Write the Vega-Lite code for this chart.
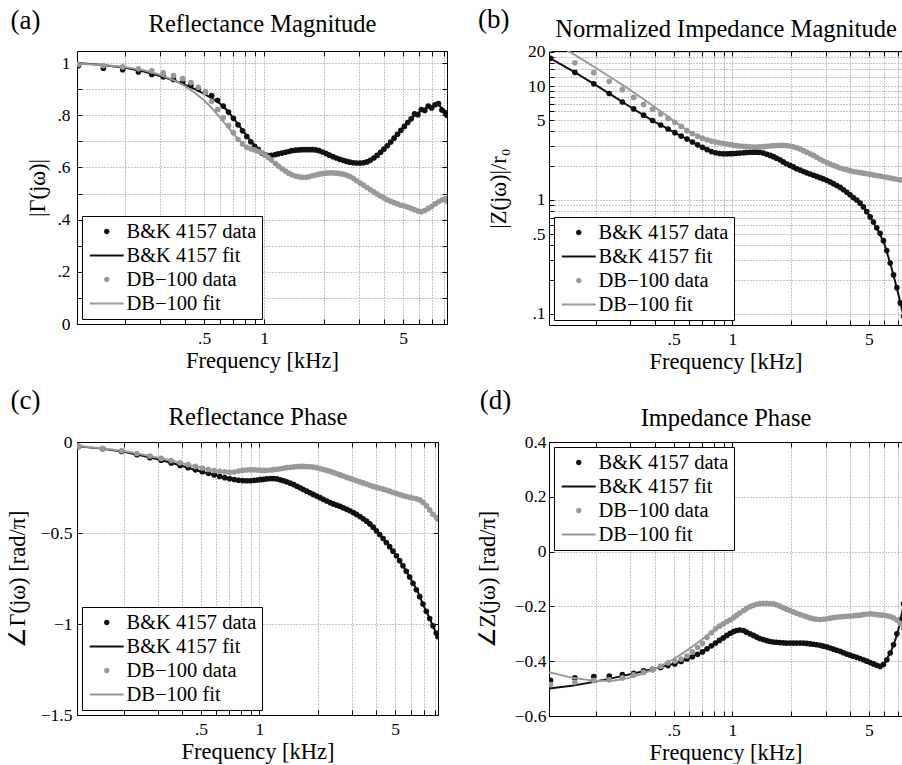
{
"$schema": "https://vega.github.io/schema/vega-lite/v6.json",
"padding": {"left": 6, "top": 5, "right": 0, "bottom": 0},
"background": "white",
"datasets": {
"bk": [
{"f":0.117,"a":0.99,"b":17.5,"c":-0.025,"d":-0.47},
{"f":0.156,"a":0.98,"b":13.2,"c":-0.037,"d":-0.461},
{"f":0.195,"a":0.974,"b":10.45,"c":-0.052,"d":-0.456},
{"f":0.234,"a":0.966,"b":8.6,"c":-0.07,"d":-0.454},
{"f":0.273,"a":0.956,"b":7.25,"c":-0.086,"d":-0.449},
{"f":0.312,"a":0.947,"b":6.3,"c":-0.1,"d":-0.444},
{"f":0.351,"a":0.937,"b":5.55,"c":-0.115,"d":-0.435},
{"f":0.39,"a":0.927,"b":4.98,"c":-0.129,"d":-0.43},
{"f":0.429,"a":0.914,"b":4.55,"c":-0.141,"d":-0.423},
{"f":0.468,"a":0.901,"b":4.2,"c":-0.153,"d":-0.416},
{"f":0.507,"a":0.888,"b":3.9,"c":-0.163,"d":-0.41},
{"f":0.546,"a":0.875,"b":3.64,"c":-0.172,"d":-0.401},
{"f":0.585,"a":0.857,"b":3.43,"c":-0.181,"d":-0.392},
{"f":0.624,"a":0.835,"b":3.23,"c":-0.189,"d":-0.384},
{"f":0.663,"a":0.812,"b":3.05,"c":-0.196,"d":-0.375},
{"f":0.702,"a":0.788,"b":2.9,"c":-0.202,"d":-0.366},
{"f":0.741,"a":0.763,"b":2.77,"c":-0.206,"d":-0.355},
{"f":0.78,"a":0.74,"b":2.66,"c":-0.21,"d":-0.344},
{"f":0.819,"a":0.718,"b":2.6,"c":-0.212,"d":-0.334},
{"f":0.858,"a":0.698,"b":2.56,"c":-0.213,"d":-0.324},
{"f":0.897,"a":0.681,"b":2.54,"c":-0.213,"d":-0.315},
{"f":0.936,"a":0.668,"b":2.54,"c":-0.211,"d":-0.306},
{"f":0.975,"a":0.655,"b":2.55,"c":-0.209,"d":-0.298},
{"f":1.014,"a":0.648,"b":2.56,"c":-0.207,"d":-0.292},
{"f":1.05,"a":0.645,"b":2.57,"c":-0.205,"d":-0.288},
{"f":1.09,"a":0.646,"b":2.58,"c":-0.203,"d":-0.286},
{"f":1.14,"a":0.649,"b":2.6,"c":-0.201,"d":-0.288},
{"f":1.18,"a":0.652,"b":2.61,"c":-0.201,"d":-0.294},
{"f":1.23,"a":0.655,"b":2.62,"c":-0.203,"d":-0.3},
{"f":1.28,"a":0.658,"b":2.63,"c":-0.208,"d":-0.306},
{"f":1.33,"a":0.661,"b":2.63,"c":-0.213,"d":-0.312},
{"f":1.38,"a":0.664,"b":2.62,"c":-0.219,"d":-0.317},
{"f":1.44,"a":0.666,"b":2.58,"c":-0.226,"d":-0.321},
{"f":1.5,"a":0.667,"b":2.52,"c":-0.234,"d":-0.325},
{"f":1.56,"a":0.668,"b":2.46,"c":-0.243,"d":-0.328},
{"f":1.62,"a":0.668,"b":2.4,"c":-0.252,"d":-0.33},
{"f":1.68,"a":0.668,"b":2.33,"c":-0.261,"d":-0.331},
{"f":1.75,"a":0.668,"b":2.25,"c":-0.27,"d":-0.332},
{"f":1.82,"a":0.667,"b":2.16,"c":-0.279,"d":-0.333},
{"f":1.89,"a":0.664,"b":2.08,"c":-0.288,"d":-0.334},
{"f":1.97,"a":0.659,"b":2.01,"c":-0.297,"d":-0.334},
{"f":2.05,"a":0.653,"b":1.95,"c":-0.306,"d":-0.334},
{"f":2.13,"a":0.647,"b":1.88,"c":-0.315,"d":-0.334},
{"f":2.22,"a":0.641,"b":1.83,"c":-0.324,"d":-0.334},
{"f":2.31,"a":0.636,"b":1.78,"c":-0.333,"d":-0.334},
{"f":2.4,"a":0.631,"b":1.73,"c":-0.34,"d":-0.335},
{"f":2.5,"a":0.627,"b":1.69,"c":-0.347,"d":-0.337},
{"f":2.6,"a":0.623,"b":1.65,"c":-0.354,"d":-0.338},
{"f":2.7,"a":0.62,"b":1.61,"c":-0.362,"d":-0.34},
{"f":2.81,"a":0.618,"b":1.57,"c":-0.37,"d":-0.342},
{"f":2.92,"a":0.617,"b":1.53,"c":-0.378,"d":-0.345},
{"f":3.04,"a":0.617,"b":1.49,"c":-0.388,"d":-0.348},
{"f":3.16,"a":0.618,"b":1.44,"c":-0.398,"d":-0.352},
{"f":3.29,"a":0.621,"b":1.39,"c":-0.41,"d":-0.356},
{"f":3.42,"a":0.627,"b":1.34,"c":-0.422,"d":-0.36},
{"f":3.56,"a":0.636,"b":1.29,"c":-0.435,"d":-0.364},
{"f":3.7,"a":0.646,"b":1.23,"c":-0.45,"d":-0.369},
{"f":3.85,"a":0.658,"b":1.17,"c":-0.468,"d":-0.374},
{"f":4.0,"a":0.67,"b":1.11,"c":-0.488,"d":-0.378},
{"f":4.16,"a":0.683,"b":1.05,"c":-0.508,"d":-0.382},
{"f":4.33,"a":0.697,"b":1.0,"c":-0.53,"d":-0.386},
{"f":4.5,"a":0.712,"b":0.94,"c":-0.552,"d":-0.39},
{"f":4.68,"a":0.727,"b":0.87,"c":-0.575,"d":-0.395},
{"f":4.87,"a":0.742,"b":0.79,"c":-0.6,"d":-0.4},
{"f":5.07,"a":0.757,"b":0.71,"c":-0.625,"d":-0.405},
{"f":5.27,"a":0.772,"b":0.64,"c":-0.652,"d":-0.41},
{"f":5.48,"a":0.786,"b":0.57,"c":-0.68,"d":-0.415},
{"f":5.7,"a":0.805,"b":0.51,"c":-0.71,"d":-0.419},
{"f":5.93,"a":0.802,"b":0.44,"c":-0.742,"d":-0.412},
{"f":6.17,"a":0.822,"b":0.36,"c":-0.776,"d":-0.395},
{"f":6.42,"a":0.818,"b":0.28,"c":-0.812,"d":-0.37},
{"f":6.68,"a":0.835,"b":0.22,"c":-0.85,"d":-0.34},
{"f":6.95,"a":0.828,"b":0.17,"c":-0.89,"d":-0.3},
{"f":7.23,"a":0.84,"b":0.125,"c":-0.93,"d":-0.25},
{"f":7.52,"a":0.845,"b":0.095,"c":-0.97,"d":-0.19},
{"f":7.82,"a":0.82,"b":0.075,"c":-1.01,"d":-0.14},
{"f":8.13,"a":0.81,"b":0.06,"c":-1.05,"d":-0.1},
{"f":8.3,"a":0.8,"b":0.05,"c":-1.07,"d":-0.08}
],
"db": [
{"f":0.117,"a":0.995,"b":21,"c":-0.023,"d":-0.485},
{"f":0.156,"a":0.99,"b":16,"c":-0.035,"d":-0.477},
{"f":0.195,"a":0.985,"b":13.1,"c":-0.048,"d":-0.47},
{"f":0.234,"a":0.978,"b":11.0,"c":-0.063,"d":-0.468},
{"f":0.273,"a":0.97,"b":9.3,"c":-0.077,"d":-0.461},
{"f":0.312,"a":0.962,"b":7.95,"c":-0.09,"d":-0.45},
{"f":0.351,"a":0.952,"b":6.9,"c":-0.102,"d":-0.441},
{"f":0.39,"a":0.94,"b":6.25,"c":-0.114,"d":-0.431},
{"f":0.429,"a":0.925,"b":5.68,"c":-0.124,"d":-0.418},
{"f":0.468,"a":0.907,"b":5.2,"c":-0.134,"d":-0.406},
{"f":0.507,"a":0.888,"b":4.8,"c":-0.143,"d":-0.399},
{"f":0.546,"a":0.853,"b":4.42,"c":-0.151,"d":-0.392},
{"f":0.585,"a":0.822,"b":4.06,"c":-0.157,"d":-0.381},
{"f":0.624,"a":0.79,"b":3.83,"c":-0.161,"d":-0.366},
{"f":0.663,"a":0.76,"b":3.63,"c":-0.164,"d":-0.35},
{"f":0.702,"a":0.733,"b":3.49,"c":-0.166,"d":-0.335},
{"f":0.741,"a":0.707,"b":3.37,"c":-0.165,"d":-0.313},
{"f":0.78,"a":0.69,"b":3.29,"c":-0.16,"d":-0.296},
{"f":0.819,"a":0.677,"b":3.23,"c":-0.156,"d":-0.282},
{"f":0.858,"a":0.671,"b":3.18,"c":-0.154,"d":-0.272},
{"f":0.897,"a":0.667,"b":3.14,"c":-0.153,"d":-0.264},
{"f":0.936,"a":0.662,"b":3.1,"c":-0.153,"d":-0.256},
{"f":0.975,"a":0.656,"b":3.06,"c":-0.154,"d":-0.249},
{"f":1.014,"a":0.647,"b":3.02,"c":-0.155,"d":-0.241},
{"f":1.05,"a":0.638,"b":3.0,"c":-0.156,"d":-0.233},
{"f":1.09,"a":0.628,"b":2.98,"c":-0.155,"d":-0.224},
{"f":1.14,"a":0.615,"b":2.96,"c":-0.154,"d":-0.215},
{"f":1.18,"a":0.605,"b":2.94,"c":-0.152,"d":-0.208},
{"f":1.23,"a":0.595,"b":2.93,"c":-0.15,"d":-0.201},
{"f":1.28,"a":0.586,"b":2.92,"c":-0.147,"d":-0.196},
{"f":1.33,"a":0.578,"b":2.92,"c":-0.144,"d":-0.192},
{"f":1.38,"a":0.572,"b":2.93,"c":-0.141,"d":-0.19},
{"f":1.44,"a":0.567,"b":2.94,"c":-0.139,"d":-0.189},
{"f":1.5,"a":0.564,"b":2.96,"c":-0.137,"d":-0.189},
{"f":1.56,"a":0.562,"b":2.98,"c":-0.135,"d":-0.19},
{"f":1.62,"a":0.562,"b":3.0,"c":-0.134,"d":-0.191},
{"f":1.68,"a":0.564,"b":3.01,"c":-0.134,"d":-0.194},
{"f":1.75,"a":0.568,"b":3.02,"c":-0.135,"d":-0.199},
{"f":1.82,"a":0.571,"b":3.02,"c":-0.136,"d":-0.205},
{"f":1.89,"a":0.574,"b":3.01,"c":-0.138,"d":-0.21},
{"f":1.97,"a":0.576,"b":2.98,"c":-0.141,"d":-0.215},
{"f":2.05,"a":0.578,"b":2.93,"c":-0.146,"d":-0.22},
{"f":2.13,"a":0.579,"b":2.87,"c":-0.151,"d":-0.225},
{"f":2.22,"a":0.579,"b":2.8,"c":-0.156,"d":-0.23},
{"f":2.31,"a":0.578,"b":2.71,"c":-0.161,"d":-0.234},
{"f":2.4,"a":0.576,"b":2.63,"c":-0.167,"d":-0.238},
{"f":2.5,"a":0.574,"b":2.54,"c":-0.174,"d":-0.242},
{"f":2.6,"a":0.57,"b":2.46,"c":-0.181,"d":-0.245},
{"f":2.7,"a":0.565,"b":2.37,"c":-0.187,"d":-0.247},
{"f":2.81,"a":0.558,"b":2.28,"c":-0.194,"d":-0.248},
{"f":2.92,"a":0.549,"b":2.2,"c":-0.2,"d":-0.247},
{"f":3.04,"a":0.54,"b":2.13,"c":-0.207,"d":-0.245},
{"f":3.16,"a":0.532,"b":2.07,"c":-0.213,"d":-0.243},
{"f":3.29,"a":0.523,"b":2.01,"c":-0.219,"d":-0.241},
{"f":3.42,"a":0.514,"b":1.96,"c":-0.225,"d":-0.239},
{"f":3.56,"a":0.506,"b":1.91,"c":-0.231,"d":-0.238},
{"f":3.7,"a":0.498,"b":1.87,"c":-0.238,"d":-0.237},
{"f":3.85,"a":0.49,"b":1.84,"c":-0.244,"d":-0.236},
{"f":4.0,"a":0.483,"b":1.81,"c":-0.249,"d":-0.235},
{"f":4.16,"a":0.476,"b":1.78,"c":-0.254,"d":-0.234},
{"f":4.33,"a":0.47,"b":1.76,"c":-0.259,"d":-0.233},
{"f":4.5,"a":0.465,"b":1.74,"c":-0.264,"d":-0.232},
{"f":4.68,"a":0.46,"b":1.72,"c":-0.27,"d":-0.23},
{"f":4.87,"a":0.455,"b":1.7,"c":-0.277,"d":-0.228},
{"f":5.07,"a":0.452,"b":1.68,"c":-0.283,"d":-0.227},
{"f":5.27,"a":0.448,"b":1.66,"c":-0.289,"d":-0.228},
{"f":5.48,"a":0.443,"b":1.64,"c":-0.295,"d":-0.23},
{"f":5.7,"a":0.438,"b":1.62,"c":-0.3,"d":-0.231},
{"f":5.93,"a":0.433,"b":1.6,"c":-0.304,"d":-0.232},
{"f":6.17,"a":0.43,"b":1.58,"c":-0.308,"d":-0.234},
{"f":6.42,"a":0.435,"b":1.56,"c":-0.312,"d":-0.237},
{"f":6.68,"a":0.443,"b":1.54,"c":-0.318,"d":-0.242},
{"f":6.95,"a":0.45,"b":1.52,"c":-0.332,"d":-0.25},
{"f":7.23,"a":0.46,"b":1.5,"c":-0.35,"d":-0.262},
{"f":7.52,"a":0.468,"b":1.48,"c":-0.373,"d":-0.28},
{"f":7.82,"a":0.475,"b":1.46,"c":-0.397,"d":-0.3},
{"f":8.13,"a":0.48,"b":1.44,"c":-0.415,"d":-0.32},
{"f":8.3,"a":0.47,"b":1.43,"c":-0.425,"d":-0.33}
],
"bkfit": [
{"f":0.115,"a":1.0,"b":17.8,"c":-0.023,"d":-0.5},
{"f":0.15,"a":0.993,"b":13.7,"c":-0.035,"d":-0.49},
{"f":0.2,"a":0.982,"b":10.2,"c":-0.054,"d":-0.474},
{"f":0.25,"a":0.967,"b":8.0,"c":-0.076,"d":-0.46},
{"f":0.3,"a":0.95,"b":6.55,"c":-0.095,"d":-0.448},
{"f":0.35,"a":0.934,"b":5.55,"c":-0.114,"d":-0.437},
{"f":0.4,"a":0.917,"b":4.85,"c":-0.132,"d":-0.427},
{"f":0.45,"a":0.9,"b":4.35,"c":-0.148,"d":-0.418},
{"f":0.5,"a":0.882,"b":3.95,"c":-0.162,"d":-0.409},
{"f":0.55,"a":0.864,"b":3.62,"c":-0.174,"d":-0.4},
{"f":0.6,"a":0.845,"b":3.35,"c":-0.184,"d":-0.389},
{"f":0.65,"a":0.82,"b":3.1,"c":-0.194,"d":-0.377},
{"f":0.7,"a":0.79,"b":2.9,"c":-0.202,"d":-0.366},
{"f":0.75,"a":0.76,"b":2.74,"c":-0.207,"d":-0.353},
{"f":0.8,"a":0.732,"b":2.62,"c":-0.211,"d":-0.339},
{"f":0.85,"a":0.705,"b":2.56,"c":-0.213,"d":-0.326},
{"f":0.9,"a":0.683,"b":2.54,"c":-0.213,"d":-0.313},
{"f":0.95,"a":0.665,"b":2.54,"c":-0.21,"d":-0.302},
{"f":1.0,"a":0.652,"b":2.55,"c":-0.207,"d":-0.294},
{"f":1.1,"a":0.646,"b":2.58,"c":-0.202,"d":-0.286},
{"f":1.2,"a":0.653,"b":2.61,"c":-0.202,"d":-0.297},
{"f":1.3,"a":0.66,"b":2.63,"c":-0.21,"d":-0.309},
{"f":1.4,"a":0.665,"b":2.61,"c":-0.221,"d":-0.319},
{"f":1.5,"a":0.667,"b":2.52,"c":-0.234,"d":-0.325},
{"f":1.65,"a":0.668,"b":2.36,"c":-0.257,"d":-0.331},
{"f":1.8,"a":0.667,"b":2.18,"c":-0.277,"d":-0.333},
{"f":2.0,"a":0.657,"b":1.99,"c":-0.3,"d":-0.334},
{"f":2.2,"a":0.642,"b":1.84,"c":-0.322,"d":-0.334},
{"f":2.4,"a":0.631,"b":1.73,"c":-0.34,"d":-0.335},
{"f":2.7,"a":0.62,"b":1.61,"c":-0.362,"d":-0.34},
{"f":3.0,"a":0.617,"b":1.51,"c":-0.385,"d":-0.347},
{"f":3.3,"a":0.621,"b":1.38,"c":-0.411,"d":-0.356},
{"f":3.6,"a":0.638,"b":1.27,"c":-0.439,"d":-0.366},
{"f":4.0,"a":0.67,"b":1.11,"c":-0.488,"d":-0.378},
{"f":4.4,"a":0.703,"b":0.97,"c":-0.539,"d":-0.388},
{"f":4.8,"a":0.737,"b":0.82,"c":-0.591,"d":-0.398},
{"f":5.2,"a":0.767,"b":0.66,"c":-0.643,"d":-0.408},
{"f":5.6,"a":0.793,"b":0.53,"c":-0.697,"d":-0.418},
{"f":6.0,"a":0.812,"b":0.41,"c":-0.752,"d":-0.408},
{"f":6.5,"a":0.828,"b":0.26,"c":-0.817,"d":-0.362},
{"f":7.0,"a":0.836,"b":0.16,"c":-0.9,"d":-0.3},
{"f":7.5,"a":0.84,"b":0.097,"c":-0.967,"d":-0.2},
{"f":8.0,"a":0.82,"b":0.065,"c":-1.035,"d":-0.12},
{"f":8.3,"a":0.8,"b":0.05,"c":-1.07,"d":-0.08}
],
"dbfit": [
{"f":0.115,"a":0.997,"b":25,"c":-0.022,"d":-0.44},
{"f":0.15,"a":0.993,"b":19.5,"c":-0.033,"d":-0.46},
{"f":0.2,"a":0.985,"b":14.4,"c":-0.05,"d":-0.472},
{"f":0.25,"a":0.972,"b":11.3,"c":-0.069,"d":-0.47},
{"f":0.3,"a":0.955,"b":9.2,"c":-0.086,"d":-0.46},
{"f":0.35,"a":0.935,"b":7.7,"c":-0.102,"d":-0.445},
{"f":0.4,"a":0.912,"b":6.55,"c":-0.117,"d":-0.428},
{"f":0.45,"a":0.885,"b":5.65,"c":-0.13,"d":-0.41},
{"f":0.5,"a":0.857,"b":4.95,"c":-0.141,"d":-0.392},
{"f":0.55,"a":0.825,"b":4.4,"c":-0.151,"d":-0.373},
{"f":0.6,"a":0.792,"b":3.98,"c":-0.158,"d":-0.355},
{"f":0.65,"a":0.76,"b":3.67,"c":-0.163,"d":-0.337},
{"f":0.7,"a":0.73,"b":3.45,"c":-0.165,"d":-0.32},
{"f":0.75,"a":0.705,"b":3.32,"c":-0.164,"d":-0.303},
{"f":0.8,"a":0.685,"b":3.24,"c":-0.158,"d":-0.287},
{"f":0.85,"a":0.672,"b":3.18,"c":-0.155,"d":-0.274},
{"f":0.9,"a":0.664,"b":3.13,"c":-0.153,"d":-0.263},
{"f":0.95,"a":0.658,"b":3.09,"c":-0.153,"d":-0.254},
{"f":1.0,"a":0.65,"b":3.04,"c":-0.155,"d":-0.246},
{"f":1.1,"a":0.625,"b":2.98,"c":-0.155,"d":-0.226},
{"f":1.2,"a":0.6,"b":2.94,"c":-0.151,"d":-0.205},
{"f":1.3,"a":0.58,"b":2.92,"c":-0.146,"d":-0.194},
{"f":1.4,"a":0.568,"b":2.93,"c":-0.14,"d":-0.19},
{"f":1.5,"a":0.563,"b":2.96,"c":-0.137,"d":-0.189},
{"f":1.65,"a":0.563,"b":3.0,"c":-0.134,"d":-0.193},
{"f":1.8,"a":0.571,"b":3.02,"c":-0.136,"d":-0.205},
{"f":2.0,"a":0.577,"b":2.97,"c":-0.143,"d":-0.217},
{"f":2.2,"a":0.579,"b":2.82,"c":-0.155,"d":-0.229},
{"f":2.4,"a":0.576,"b":2.63,"c":-0.167,"d":-0.238},
{"f":2.7,"a":0.565,"b":2.37,"c":-0.187,"d":-0.247},
{"f":3.0,"a":0.543,"b":2.15,"c":-0.205,"d":-0.246},
{"f":3.3,"a":0.522,"b":2.0,"c":-0.22,"d":-0.241},
{"f":3.6,"a":0.504,"b":1.9,"c":-0.233,"d":-0.238},
{"f":4.0,"a":0.483,"b":1.81,"c":-0.249,"d":-0.235},
{"f":4.4,"a":0.468,"b":1.75,"c":-0.261,"d":-0.233},
{"f":4.8,"a":0.457,"b":1.7,"c":-0.275,"d":-0.229},
{"f":5.2,"a":0.449,"b":1.67,"c":-0.287,"d":-0.227},
{"f":5.6,"a":0.44,"b":1.63,"c":-0.298,"d":-0.23},
{"f":6.0,"a":0.432,"b":1.59,"c":-0.305,"d":-0.233},
{"f":6.5,"a":0.437,"b":1.56,"c":-0.313,"d":-0.238},
{"f":7.0,"a":0.452,"b":1.52,"c":-0.335,"d":-0.252},
{"f":7.5,"a":0.467,"b":1.48,"c":-0.372,"d":-0.278},
{"f":8.0,"a":0.478,"b":1.45,"c":-0.407,"d":-0.31},
{"f":8.3,"a":0.475,"b":1.43,"c":-0.425,"d":-0.33}
]
},
"concat": [
{
"width": 370, "height": 273,
"title": {"text": "(a)", "anchor": "start", "frame": "group", "orient": "top", "baseline": "alphabetic", "offset": 0, "dx": -66.5, "dy": 43.7},
"resolve": {"axis": {"x": "independent", "y": "independent"}},
"layer": [
{"data": {"name": "bk"}, "mark": {"type": "point", "filled": true, "size": 32, "opacity": 1, "clip": true},
"encoding": {
"x": {"field": "f", "type": "quantitative", "scale": {"type": "log", "domain": [0.115, 8.3], "nice": false},
"axis": {"orient": "bottom", "values": [0.2,0.3,0.4,0.5,0.6,0.7,0.8,0.9,1,2,3,4,5,6,7,8], "labelExpr": "datum.value == 0.5 ? '.5' : datum.value == 1 ? '1' : datum.value == 5 ? '5' : ''", "grid": true, "tickSize": -5, "labelPadding": 10, "title": "Frequency [kHz]", "titlePadding": 3, "minExtent": 22, "maxExtent": 22}},
"y": {"field": "a", "type": "quantitative", "scale": {"domain": [0, 1.046], "nice": false, "zero": false},
"axis": {"orient": "left", "values": [0,0.1,0.2,0.3,0.4,0.5,0.6,0.7,0.8,0.9,1], "labelExpr": "datum.value == 0 ? '0' : datum.value == 0.2 ? '.2' : datum.value == 0.4 ? '.4' : datum.value == 0.6 ? '.6' : datum.value == 0.8 ? '.8' : datum.value == 1 ? '1' : ''", "grid": true, "tickSize": -5, "labelPadding": 12, "title": "|Γ(jω)|", "titlePadding": 6, "minExtent": 22, "maxExtent": 22}},
"color": {"datum": "B&K 4157 data", "type": "nominal",
"scale": {"domain": ["B&K 4157 data", "B&K 4157 fit", "DB−100 data", "DB−100 fit"], "range": ["#111111", "#111111", "#999999", "#999999"]},
"legend": {"title": null, "orient": "bottom-left"}},
"shape": {"datum": "B&K 4157 data", "type": "nominal",
"scale": {"domain": ["B&K 4157 data", "B&K 4157 fit", "DB−100 data", "DB−100 fit"], "range": ["circle", "M-9.8,0H9.8", "circle", "M-9.8,0H9.8"]},
"legend": {"title": null, "orient": "bottom-left"}}
}},
{"data": {"name": "bkfit"}, "mark": {"type": "line", "strokeWidth": 2, "clip": true},
"encoding": {
"x": {"field": "f", "type": "quantitative", "axis": {"orient": "top", "values": [0.2,0.3,0.4,0.5,0.6,0.7,0.8,0.9,1,2,3,4,5,6,7,8], "labels": false, "grid": false, "tickSize": -5, "title": "Reflectance Magnitude", "titleFontSize": 24.5, "titlePadding": 14.2, "minExtent": 0, "maxExtent": 0}},
"y": {"field": "a", "type": "quantitative", "axis": {"orient": "right", "values": [0,0.1,0.2,0.3,0.4,0.5,0.6,0.7,0.8,0.9,1], "labels": false, "grid": false, "tickSize": -5, "title": null, "minExtent": 0, "maxExtent": 0}},
"color": {"datum": "B&K 4157 fit", "type": "nominal"}
}},
{"data": {"name": "db"}, "mark": {"type": "point", "filled": true, "size": 32, "opacity": 1, "clip": true},
"encoding": {
"x": {"field": "f", "type": "quantitative", "axis": null},
"y": {"field": "a", "type": "quantitative", "axis": null},
"color": {"datum": "DB−100 data", "type": "nominal"},
"shape": {"datum": "DB−100 data", "type": "nominal"}
}},
{"data": {"name": "dbfit"}, "mark": {"type": "line", "strokeWidth": 2, "clip": true},
"encoding": {
"x": {"field": "f", "type": "quantitative", "axis": null},
"y": {"field": "a", "type": "quantitative", "axis": null},
"color": {"datum": "DB−100 fit", "type": "nominal"}
}}
]
},
{
"width": 353, "height": 274,
"title": {"text": "(b)", "anchor": "start", "frame": "group", "orient": "top", "baseline": "alphabetic", "offset": 0, "dx": -71, "dy": 38.4},
"resolve": {"axis": {"x": "independent", "y": "independent"}},
"layer": [
{"data": {"name": "bk"}, "mark": {"type": "point", "filled": true, "size": 32, "opacity": 1, "clip": true},
"encoding": {
"x": {"field": "f", "type": "quantitative", "scale": {"type": "log", "domain": [0.115, 7.38], "nice": false},
"axis": {"orient": "bottom", "values": [0.2,0.3,0.4,0.5,0.6,0.7,0.8,0.9,1,2,3,4,5,6,7], "labelExpr": "datum.value == 0.5 ? '.5' : datum.value == 1 ? '1' : datum.value == 5 ? '5' : ''", "grid": true, "tickSize": -5, "labelPadding": 10, "title": "Frequency [kHz]", "titlePadding": 3, "minExtent": 22, "maxExtent": 22}},
"y": {"field": "b", "type": "quantitative", "scale": {"type": "log", "domain": [0.08, 20.3], "nice": false},
"axis": {"orient": "left", "values": [0.1,0.2,0.3,0.4,0.5,0.6,0.7,0.8,0.9,1,2,3,4,5,6,7,8,9,10,12,14,16,18,20], "labelExpr": "datum.value == 0.1 ? '.1' : datum.value == 0.5 ? '.5' : datum.value == 1 ? '1' : datum.value == 5 ? '5' : datum.value == 10 ? '10' : datum.value == 20 ? '20' : ''", "grid": true, "tickSize": -5, "labelPadding": 9, "title": "|Z(jω)|/r₀", "titlePadding": 13, "minExtent": 26, "maxExtent": 26}},
"color": {"datum": "B&K 4157 data", "type": "nominal",
"scale": {"domain": ["B&K 4157 data", "B&K 4157 fit", "DB−100 data", "DB−100 fit"], "range": ["#111111", "#111111", "#999999", "#999999"]},
"legend": {"title": null, "orient": "bottom-left"}},
"shape": {"datum": "B&K 4157 data", "type": "nominal",
"scale": {"domain": ["B&K 4157 data", "B&K 4157 fit", "DB−100 data", "DB−100 fit"], "range": ["circle", "M-9.8,0H9.8", "circle", "M-9.8,0H9.8"]},
"legend": {"title": null, "orient": "bottom-left"}}
}},
{"data": {"name": "bkfit"}, "mark": {"type": "line", "strokeWidth": 2, "clip": true},
"encoding": {
"x": {"field": "f", "type": "quantitative", "axis": {"orient": "top", "values": [0.2,0.3,0.4,0.5,0.6,0.7,0.8,0.9,1,2,3,4,5,6,7], "labels": false, "grid": false, "tickSize": -5, "title": "Normalized Impedance Magnitude", "titleFontSize": 24.5, "titlePadding": 9.9, "minExtent": 0, "maxExtent": 0}},
"y": {"field": "b", "type": "quantitative", "axis": null},
"color": {"datum": "B&K 4157 fit", "type": "nominal"}
}},
{"data": {"name": "db"}, "mark": {"type": "point", "filled": true, "size": 32, "opacity": 1, "clip": true},
"encoding": {
"x": {"field": "f", "type": "quantitative", "axis": null},
"y": {"field": "b", "type": "quantitative", "axis": null},
"color": {"datum": "DB−100 data", "type": "nominal"},
"shape": {"datum": "DB−100 data", "type": "nominal"}
}},
{"data": {"name": "dbfit"}, "mark": {"type": "line", "strokeWidth": 2, "clip": true},
"encoding": {
"x": {"field": "f", "type": "quantitative", "axis": null},
"y": {"field": "b", "type": "quantitative", "axis": null},
"color": {"datum": "DB−100 fit", "type": "nominal"}
}}
]
},
{
"width": 361, "height": 273,
"title": {"text": "(c)", "anchor": "start", "frame": "group", "orient": "top", "baseline": "alphabetic", "offset": 0, "dx": -66.5, "dy": 31.5},
"resolve": {"axis": {"x": "independent", "y": "independent"}},
"layer": [
{"data": {"name": "bk"}, "mark": {"type": "point", "filled": true, "size": 32, "opacity": 1, "clip": true},
"encoding": {
"x": {"field": "f", "type": "quantitative", "scale": {"type": "log", "domain": [0.115, 8.3], "nice": false},
"axis": {"orient": "bottom", "values": [0.2,0.3,0.4,0.5,0.6,0.7,0.8,0.9,1,2,3,4,5,6,7,8], "labelExpr": "datum.value == 0.5 ? '.5' : datum.value == 1 ? '1' : datum.value == 5 ? '5' : ''", "grid": true, "tickSize": -5, "labelPadding": 10, "title": "Frequency [kHz]", "titlePadding": 3, "minExtent": 22, "maxExtent": 22}},
"y": {"field": "c", "type": "quantitative", "scale": {"domain": [-1.5, 0], "nice": false, "zero": false},
"axis": {"orient": "left", "values": [-1.5,-1,-0.5,0], "labelExpr": "datum.value == 0 ? '0' : datum.value == -0.5 ? '−0.5' : datum.value == -1 ? '−1' : '−1.5'", "grid": true, "tickSize": -5, "labelPadding": 10, "title": "∠Γ(jω) [rad/π]", "titlePadding": 8, "minExtent": 40, "maxExtent": 40}},
"color": {"datum": "B&K 4157 data", "type": "nominal",
"scale": {"domain": ["B&K 4157 data", "B&K 4157 fit", "DB−100 data", "DB−100 fit"], "range": ["#111111", "#111111", "#999999", "#999999"]},
"legend": {"title": null, "orient": "bottom-left"}},
"shape": {"datum": "B&K 4157 data", "type": "nominal",
"scale": {"domain": ["B&K 4157 data", "B&K 4157 fit", "DB−100 data", "DB−100 fit"], "range": ["circle", "M-9.8,0H9.8", "circle", "M-9.8,0H9.8"]},
"legend": {"title": null, "orient": "bottom-left"}}
}},
{"data": {"name": "bkfit"}, "mark": {"type": "line", "strokeWidth": 2, "clip": true},
"encoding": {
"x": {"field": "f", "type": "quantitative", "axis": {"orient": "top", "values": [0.2,0.3,0.4,0.5,0.6,0.7,0.8,0.9,1,2,3,4,5,6,7,8], "labels": false, "grid": false, "tickSize": -5, "title": "Reflectance Phase", "titleFontSize": 24.5, "titlePadding": 12.4, "minExtent": 0, "maxExtent": 0}},
"y": {"field": "c", "type": "quantitative", "axis": {"orient": "right", "values": [-1.5,-1,-0.5,0], "labels": false, "grid": false, "tickSize": -5, "title": null, "minExtent": 0, "maxExtent": 0}},
"color": {"datum": "B&K 4157 fit", "type": "nominal"}
}},
{"data": {"name": "db"}, "mark": {"type": "point", "filled": true, "size": 32, "opacity": 1, "clip": true},
"encoding": {
"x": {"field": "f", "type": "quantitative", "axis": null},
"y": {"field": "c", "type": "quantitative", "axis": null},
"color": {"datum": "DB−100 data", "type": "nominal"},
"shape": {"datum": "DB−100 data", "type": "nominal"}
}},
{"data": {"name": "dbfit"}, "mark": {"type": "line", "strokeWidth": 2, "clip": true},
"encoding": {
"x": {"field": "f", "type": "quantitative", "axis": null},
"y": {"field": "c", "type": "quantitative", "axis": null},
"color": {"datum": "DB−100 fit", "type": "nominal"}
}}
]
},
{
"width": 353, "height": 274,
"title": {"text": "(d)", "anchor": "start", "frame": "group", "orient": "top", "baseline": "alphabetic", "offset": 0, "dx": -69.3, "dy": 30.5},
"resolve": {"axis": {"x": "independent", "y": "independent"}},
"layer": [
{"data": {"name": "bk"}, "mark": {"type": "point", "filled": true, "size": 32, "opacity": 1, "clip": true},
"encoding": {
"x": {"field": "f", "type": "quantitative", "scale": {"type": "log", "domain": [0.115, 7.38], "nice": false},
"axis": {"orient": "bottom", "values": [0.2,0.3,0.4,0.5,0.6,0.7,0.8,0.9,1,2,3,4,5,6,7], "labelExpr": "datum.value == 0.5 ? '.5' : datum.value == 1 ? '1' : datum.value == 5 ? '5' : ''", "grid": true, "tickSize": -5, "labelPadding": 10, "title": "Frequency [kHz]", "titlePadding": 3, "minExtent": 22, "maxExtent": 22}},
"y": {"field": "d", "type": "quantitative", "scale": {"domain": [-0.6, 0.4], "nice": false, "zero": false},
"axis": {"orient": "left", "values": [-0.6,-0.4,-0.2,0,0.2,0.4], "labelExpr": "datum.value == 0.4 ? '0.4' : datum.value == 0.2 ? '0.2' : datum.value == 0 ? '0' : datum.value == -0.2 ? '−0.2' : datum.value == -0.4 ? '−0.4' : '−0.6'", "grid": true, "tickSize": -5, "labelPadding": 8, "title": "∠Z(jω) [rad/π]", "titlePadding": 9, "minExtent": 41, "maxExtent": 41}},
"color": {"datum": "B&K 4157 data", "type": "nominal",
"scale": {"domain": ["B&K 4157 data", "B&K 4157 fit", "DB−100 data", "DB−100 fit"], "range": ["#111111", "#111111", "#999999", "#999999"]},
"legend": {"title": null, "orient": "top-left"}},
"shape": {"datum": "B&K 4157 data", "type": "nominal",
"scale": {"domain": ["B&K 4157 data", "B&K 4157 fit", "DB−100 data", "DB−100 fit"], "range": ["circle", "M-9.8,0H9.8", "circle", "M-9.8,0H9.8"]},
"legend": {"title": null, "orient": "top-left"}}
}},
{"data": {"name": "bkfit"}, "mark": {"type": "line", "strokeWidth": 2, "clip": true},
"encoding": {
"x": {"field": "f", "type": "quantitative", "axis": {"orient": "top", "values": [0.2,0.3,0.4,0.5,0.6,0.7,0.8,0.9,1,2,3,4,5,6,7], "labels": false, "grid": false, "tickSize": -5, "title": "Impedance Phase", "titleFontSize": 24.5, "titlePadding": 11.4, "minExtent": 0, "maxExtent": 0}},
"y": {"field": "d", "type": "quantitative", "axis": null},
"color": {"datum": "B&K 4157 fit", "type": "nominal"}
}},
{"data": {"name": "db"}, "mark": {"type": "point", "filled": true, "size": 32, "opacity": 1, "clip": true},
"encoding": {
"x": {"field": "f", "type": "quantitative", "axis": null},
"y": {"field": "d", "type": "quantitative", "axis": null},
"color": {"datum": "DB−100 data", "type": "nominal"},
"shape": {"datum": "DB−100 data", "type": "nominal"}
}},
{"data": {"name": "dbfit"}, "mark": {"type": "line", "strokeWidth": 2, "clip": true},
"encoding": {
"x": {"field": "f", "type": "quantitative", "axis": null},
"y": {"field": "d", "type": "quantitative", "axis": null},
"color": {"datum": "DB−100 fit", "type": "nominal"}
}}
]
}
],
"columns": 2,
"bounds": "flush",
"spacing": {"row": 117, "column": 102},
"resolve": {"scale": {"color": "independent", "shape": "independent"}, "legend": {"color": "independent", "shape": "independent"}},
"config": {
"font": "Liberation Serif",
"view": {"stroke": null},
"axis": {"labelFont": "Liberation Serif", "titleFont": "Liberation Serif", "labelFontSize": 17.5, "titleFontSize": 22.5, "labelColor": "black", "titleColor": "black", "titleFontWeight": "normal", "domain": true, "domainColor": "black", "domainWidth": 1, "tickColor": "black", "tickWidth": 1, "gridColor": "#888888", "gridDash": [1, 2], "gridWidth": 1, "gridOpacity": 1, "labelOverlap": false, "labelFlush": false, "labelBound": false, "labelAngle": 0},
"title": {"font": "Liberation Serif", "fontWeight": "normal", "color": "black", "fontSize": 27},
"legend": {"labelFont": "Liberation Serif", "labelFontSize": 20.5, "labelColor": "black", "fillColor": "white", "strokeColor": "black", "strokeWidth": 1, "padding": 5, "symbolSize": 12, "symbolStrokeWidth": 2, "symbolOffset": 9.5, "labelOffset": 9.5, "rowPadding": 3, "clipHeight": 21, "offset": 5, "labelLimit": 300}
}
}
